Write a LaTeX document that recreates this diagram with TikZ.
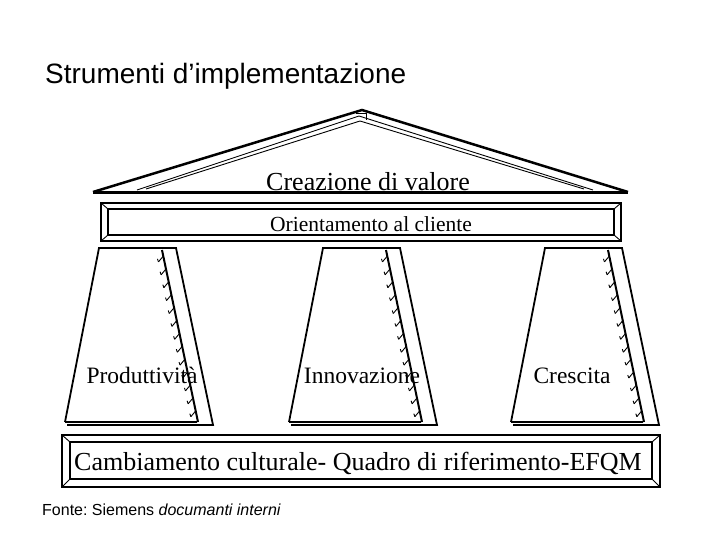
\documentclass[tikz,border=0pt]{standalone}
\usepackage{fontspec}
\usetikzlibrary{calc}
\setmainfont{Liberation Serif}
\newfontfamily\arialf{Liberation Sans}
\frenchspacing
\begin{document}
\begin{tikzpicture}[x=1pt,y=-1pt,
  thin line/.style={line width=0.9pt},
  thick line/.style={line width=2pt},
  serif label/.style={inner sep=0pt,anchor=base,font=\fontsize{23.5}{25}\selectfont},
  sans label/.style={inner sep=0pt,anchor=west}]
\useasboundingbox (0,0) rectangle (720,540);
% title
\node[sans label,font=\arialf\fontsize{28}{30}\selectfont] (title) at (45,76) {Strumenti d’implementazione};
% roof
\coordinate (rl) at (93,192);
\coordinate (ra) at (362,110);
\coordinate (rr) at (628,192);
\draw[line width=2.5pt,line join=miter] (rl) -- (ra) -- (rr);
\draw[thin line] (137,190) -- (359,116) -- (593,190);
\draw[thin line] (146,189) -- (360,121) -- (584,189);
\draw[thin line] (356,113) -- (366,113) -- (366,120);
\draw[line width=3pt] (93,193) -- (628,193);
\node[serif label,font=\fontsize{26}{28}\selectfont] (crea) at (368,190.5) {Creazione di valore};
% orientamento box
\draw[line width=1.5pt] (101,203) rectangle (621,241);
\draw[line width=1.5pt] (108,209) rectangle (614,235);
\foreach \a/\b in {101/108,621/614}{
  \draw[thin line] (\a,203) -- (\b,209);
  \draw[thin line] (\a,241) -- (\b,235);}
\node[serif label,font=\fontsize{21.5}{23}\selectfont] (orient) at (371,231) {Orientamento al cliente};
% pillars
\foreach \l/\name in {0/p1,224/p2,446/p3}{
  \begin{scope}[xshift=\l]
  \draw[line width=1.8pt,line join=miter] (65,422) -- (99,248) -- (176,248) -- (213,425) -- (67,425);
  \draw[line width=1.8pt] (65,422) -- (197,422);
  \draw[line width=2pt] (162,250) -- (198,422);
  \foreach \t in {0.04,0.115,...,0.99}{
    \draw[thin line] ($(162,250)!\t!(198,422)+(-5,5)$) -- ($(162,250)!\t!(198,422)+(0,-1)$);
    \draw[thin line] ($(162,250)!\t!(198,422)+(-5,5)$) -- ($(162,250)!\t!(198,422)+(-6,2)$);}
  \end{scope}}
\node[serif label] (prod) at (142,383.5) {Produttività};
\node[serif label] (inno) at (362,383.5) {Innovazione};
\node[serif label] (cres) at (572,383.5) {Crescita};
% bottom box
\draw[line width=1.5pt] (62,435) rectangle (660,487);
\draw[line width=1.5pt] (70,442) rectangle (652,479);
\foreach \a/\b in {62/70,660/652}{
  \draw[thin line] (\a,435) -- (\b,442);
  \draw[thin line] (\a,487) -- (\b,479);}
\node[serif label,font=\fontsize{26}{28}\selectfont] (camb) at (358,470.5) {Cambiamento culturale- Quadro di riferimento-EFQM};
% source
\node[sans label,font=\arialf\fontsize{16}{18}\selectfont] (fonte) at (42,510) {Fonte: Siemens \textit{documanti interni}};
\end{tikzpicture}
\end{document}
